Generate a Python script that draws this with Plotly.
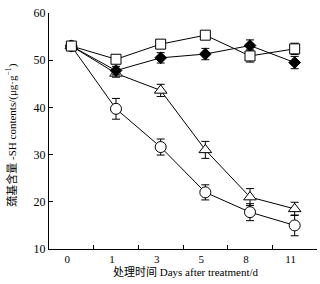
import plotly.graph_objects as go

days = ["0", "1", "3", "5", "8", "11"]

square_vals = [53.0, 50.2, 53.4, 55.3, 50.9, 52.4]
square_err = [0.5, 0.6, 0.6, 0.6, 1.3, 1.2]

diamond_vals = [53.0, 47.8, 50.5, 51.3, 53.1, 49.5]
diamond_err = [0.5, 0.9, 1.1, 1.2, 1.2, 1.3]

triangle_vals = [53.0, 47.2, 43.6, 31.0, 21.0, 18.5]
triangle_err = [0.5, 0.8, 1.3, 1.8, 1.8, 1.4]

circle_vals = [53.0, 39.7, 31.6, 22.0, 17.8, 15.0]
circle_err = [0.5, 2.2, 1.7, 1.6, 1.8, 2.2]

x_title = "处理时间 Days after treatment/d"
y_title = "巯基含量 -SH contents/(μg·g<sup>−1</sup>)"

FONT = "Liberation Serif, Times New Roman, Noto Sans CJK SC, serif"

fig = go.Figure()

series = [
    (circle_vals, circle_err, "circle", "white", 11),
    (triangle_vals, triangle_err, "triangle-up", "white", 11),
    (diamond_vals, diamond_err, "diamond", "black", 9),
    (square_vals, square_err, "square", "white", 10),
]
for vals, err, sym, fill, size in series:
    fig.add_trace(go.Scatter(
        x=days, y=vals, mode="lines+markers",
        line=dict(color="black", width=1),
        marker=dict(symbol=sym, size=size, color=fill,
                    line=dict(color="black", width=1)),
        error_y=dict(type="data", array=err, visible=True,
                     color="black", thickness=1, width=4),
        showlegend=False,
    ))

fig.update_layout(
    width=320, height=284,
    margin=dict(l=49, r=3, t=13, b=35),
    plot_bgcolor="white", paper_bgcolor="white",
    font=dict(family=FONT, size=11, color="black"),
)
fig.update_xaxes(
    type="category", range=[-0.5, 5.5], automargin=False,
    tickson="boundaries", ticks="inside", ticklen=4, tickcolor="black",
    showline=True, linecolor="black", linewidth=1,
    showgrid=False, zeroline=False,
    tickfont=dict(size=11), ticklabelshift=-4, ticklabelstandoff=0,
)
fig.update_yaxes(
    range=[10, 60], tickvals=[10, 20, 30, 40, 50, 60], automargin=False,
    ticks="inside", ticklen=4, tickcolor="black",
    showline=True, linecolor="black", linewidth=1,
    showgrid=False, zeroline=False,
    tickfont=dict(size=12),
)
fig.add_annotation(text=x_title, xref="paper", yref="paper",
                   x=0.51, y=0, yshift=-23, showarrow=False,
                   xanchor="center", yanchor="middle", font=dict(size=11))
fig.add_annotation(text=y_title, xref="paper", yref="paper",
                   x=0, xshift=-37, y=0.48, showarrow=False, textangle=-90,
                   xanchor="center", yanchor="middle", font=dict(size=11))

fig.write_html("out.html", config={"displayModeBar": False},
               post_script="document.body.style.margin='0';document.body.style.overflow='hidden';")
